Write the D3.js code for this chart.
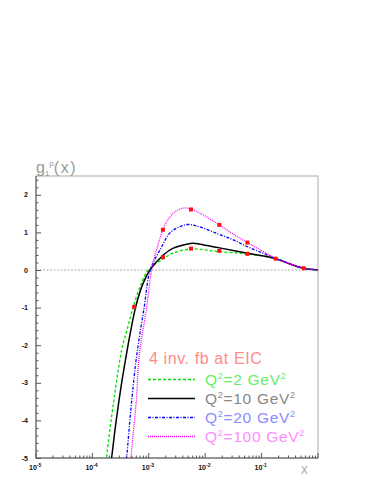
<!DOCTYPE html>
<html>
<head>
<meta charset="utf-8">
<script src="https://cdn.jsdelivr.net/npm/d3@7"></script>
<style>
  html, body { margin: 0; padding: 0; background: #fff; }
  svg { display: block; font-family: "Liberation Sans", Arial, sans-serif; }
</style>
</head>
<body>
<div id="chart"></div>
<script>
// g1^p(x) curves for several Q^2
const q2Labels = ['2', '10', '20', '100'];

const xQ2 = [1.6e-4, 1.78e-4, 2.4e-4, 3.3e-4, 4.1e-4, 5.3e-4, 7.4e-4, 9.8e-4, 1.8e-3, 2.7e-3, 5.5e-3, 8.1e-3, 0.017, 0.056, 0.18, 0.32, 0.56, 1];
const yQ2 = [-5.9, -5.0, -3.47, -2.13, -1.6, -0.98, -0.35, 0, 0.3, 0.45, 0.56, 0.55, 0.49, 0.43, 0.30, 0.16, 0.045, 0];

const xQ10 = [2.0e-4, 2.19e-4, 2.96e-4, 3.98e-4, 5.86e-4, 7.94e-4, 1.05e-3, 1.81e-3, 2.72e-3, 4.68e-3, 6.17e-3, 8.1e-3, 0.017, 0.056, 0.18, 0.32, 0.56, 1];
const yQ10 = [-5.6, -5.0, -3.47, -2.27, -0.98, -0.35, 0, 0.4, 0.58, 0.685, 0.71, 0.685, 0.595, 0.445, 0.30, 0.16, 0.045, 0];

const xQ20 = [3.8e-4, 4.06e-4, 4.98e-4, 6.1e-4, 8.3e-4, 1.06e-3, 1.6e-3, 2.38e-3, 3.57e-3, 4.9e-3, 7.1e-3, 0.017, 0.0316, 0.056, 0.107, 0.18, 0.32, 0.56, 1];
const yQ20 = [-5.6, -5.0, -3.47, -2.27, -0.98, 0, 0.55, 0.99, 1.155, 1.21, 1.17, 0.96, 0.8, 0.62, 0.445, 0.30, 0.16, 0.045, 0];

const xQ100 = [4.6e-4, 4.83e-4, 6.0e-4, 6.76e-4, 9.2e-4, 1.12e-3, 1.41e-3, 1.78e-3, 2.19e-3, 2.72e-3, 3.55e-3, 4.47e-3, 5.53e-3, 8.1e-3, 0.017, 0.0316, 0.056, 0.107, 0.18, 0.32, 0.56, 1];
const yQ100 = [-5.6, -5.0, -3.47, -2.27, -0.98, 0, 0.6, 1.07, 1.34, 1.51, 1.62, 1.65, 1.62, 1.51, 1.22, 0.95, 0.73, 0.49, 0.30, 0.16, 0.045, 0];

// projected data points (4 inv. fb at EIC)
const xPts = [5.5e-4, 1.78e-3, 1.78e-3, 5.6e-3, 5.6e-3, 0.0178, 0.0178, 0.056, 0.056, 0.178, 0.56];
const yPts = [-0.98, 1.07, 0.34, 1.61, 0.57, 1.2, 0.51, 0.73, 0.43, 0.30, 0.045];

const xDecades = [-5, -4, -3, -2, -1];
const yTicks = [-5, -4, -3, -2, -1, 0, 1, 2];

const W = 382, H = 494;
const m = {t:176, r:64, b:36, l:36};
const w = W - m.l - m.r;
const h = H - m.t - m.b;

const svg = d3.select('#chart').append('svg')
  .attr('width', W)
  .attr('height', H);

const plot = svg.append('g')
  .attr('transform', `translate(${m.l}, ${m.t})`);

const x = d3.scaleLog().domain([1e-5, 1]).range([0, w]);
const y = d3.scaleLinear().domain([-5, 2.5]).range([h, 0]);

plot.append('clipPath').attr('id', 'clip')
  .append('rect').attr('width', w).attr('height', h);

// frame
plot.append('rect')
  .attr('width', w).attr('height', h)
  .attr('fill', 'none')
  .attr('stroke', '#aaa')
  .attr('stroke-width', 1);

// zero line
plot.append('line')
  .attr('x1', 0).attr('x2', w)
  .attr('y1', y(0)).attr('y2', y(0))
  .attr('stroke', '#b0b0b0')
  .attr('stroke-width', 1)
  .attr('stroke-dasharray', '2,1.5');

// y axis: ticks inward
const yMinor = d3.range(-5, 2.5001, 0.2).map(v => Math.round(v*10)/10);
const yAxis = plot.append('g').attr('class', 'y-axis');
yAxis.append('line')
  .attr('x1', 0).attr('x2', 0).attr('y1', 0).attr('y2', h)
  .attr('stroke', '#555');
yAxis.selectAll('.ytick').data(yMinor).enter()
  .append('line')
  .attr('x1', 0)
  .attr('x2', d => Number.isInteger(d) ? 5 : 2.5)
  .attr('y1', d => y(d) + 0.5).attr('y2', d => y(d) + 0.5)
  .attr('stroke', '#555');
yAxis.selectAll('.ylab').data(yTicks).enter()
  .append('text')
  .attr('x', -8)
  .attr('y', d => y(d) + 2.5)
  .attr('text-anchor', 'end')
  .attr('font-size', 7)
  .attr('font-weight', 'bold')
  .attr('fill', '#111')
  .text(d => d);

// x axis: decades + minor ticks
const xMinor = [];
xDecades.forEach(e => {
  for (let k = 1; k <= 9; k++) xMinor.push({v: k * Math.pow(10, e), major: k === 1});
});
xMinor.push({v: 1, major: true});
const xAxis = plot.append('g').attr('class', 'x-axis');
xAxis.append('line')
  .attr('x1', 0).attr('x2', w).attr('y1', h).attr('y2', h)
  .attr('stroke', '#555');
xAxis.selectAll('.xtick').data(xMinor).enter()
  .append('line')
  .attr('x1', d => x(d.v)).attr('x2', d => x(d.v))
  .attr('y1', h)
  .attr('y2', d => h - (d.major ? 5 : 2.5))
  .attr('stroke', '#555');
const xl = xAxis.selectAll('.xlab').data(xDecades).enter()
  .append('text')
  .attr('x', d => x(Math.pow(10, d)) - 7)
  .attr('y', h + 12)
  .attr('font-size', 7)
  .attr('font-weight', 'bold')
  .attr('fill', '#111');
xl.append('tspan').text('10');
xl.append('tspan').attr('dy', -3).attr('font-size', 5).text(d => d);

// titles
svg.append('text')
  .attr('x', 36).attr('y', 173)
  .attr('font-size', 16)
  .attr('fill', '#999')
  .call(t => {
    t.append('tspan').text('g');
    t.append('tspan').attr('dy', 3).attr('font-size', 8).text('1');
    t.append('tspan').attr('dy', -10).attr('font-size', 8).text('p');
    t.append('tspan').attr('dy', 7).attr('letter-spacing', 1.5).text('(x)');
  });

svg.append('text')
  .attr('x', 301).attr('y', 474)
  .attr('font-size', 10)
  .attr('fill', '#999')
  .text('X');

// curves
const series = [
  {xs: xQ2, ys: yQ2, color: '#00e000', dash: '3,2', width: 1.3},
  {xs: xQ10, ys: yQ10, color: '#000', dash: null, width: 1.5},
  {xs: xQ20, ys: yQ20, color: '#0000ff', dash: '3,1.5,1,1.5', width: 1.3},
  {xs: xQ100, ys: yQ100, color: '#ff00ff', dash: '1,1', width: 1.3}
];

const line = d3.line()
  .x(d => x(d[0]))
  .y(d => y(d[1]))
  .curve(d3.curveCatmullRom.alpha(0.5));

const curves = plot.append('g').attr('clip-path', 'url(#clip)');
curves.selectAll('path').data(series).enter()
  .append('path')
  .attr('d', s => line(s.xs.map((v, i) => [v, s.ys[i]])))
  .attr('fill', 'none')
  .attr('stroke', s => s.color)
  .attr('stroke-width', s => s.width)
  .attr('stroke-dasharray', s => s.dash);

// points
curves.selectAll('.pt').data(xPts.map((v, i) => [v, yPts[i]])).enter()
  .append('rect')
  .attr('class', 'pt')
  .attr('x', d => x(d[0]) - 2)
  .attr('y', d => y(d[1]) - 2)
  .attr('width', 4).attr('height', 4)
  .attr('fill', '#ff1010');

// legend
const legend = svg.append('g');
legend.append('text')
  .attr('x', 149).attr('y', 364)
  .attr('font-size', 16)
  .attr('letter-spacing', 0.6)
  .attr('fill', '#ff8a8a')
  .text('4 inv. fb at EIC');

const legRows = series.map((s, i) => ({s, label: q2Labels[i],
  text: ['#66ee66', '#888', '#8c8cff', '#ff8cff'][i]}));
const rowY = [379.5, 398.5, 417.5, 436.5];

const rows = legend.selectAll('.row').data(legRows).enter()
  .append('g').attr('class', 'row')
  .attr('transform', (d, i) => `translate(0, ${rowY[i]})`);
rows.append('line')
  .attr('x1', 148).attr('x2', 195)
  .attr('stroke', d => d.s.color)
  .attr('stroke-width', d => d.s.width)
  .attr('stroke-dasharray', d => d.s.dash);
const lt = rows.append('text')
  .attr('x', 205).attr('y', 5)
  .attr('font-size', 15.5)
  .attr('letter-spacing', 0.7)
  .attr('fill', d => d.text);
lt.append('tspan').text('Q');
lt.append('tspan').attr('dy', -6).attr('font-size', 9).text('2');
lt.append('tspan').attr('dy', 6).text(d => '=' + d.label + ' GeV');
lt.append('tspan').attr('dy', -6).attr('font-size', 9).text('2');
</script>
</body>
</html>
